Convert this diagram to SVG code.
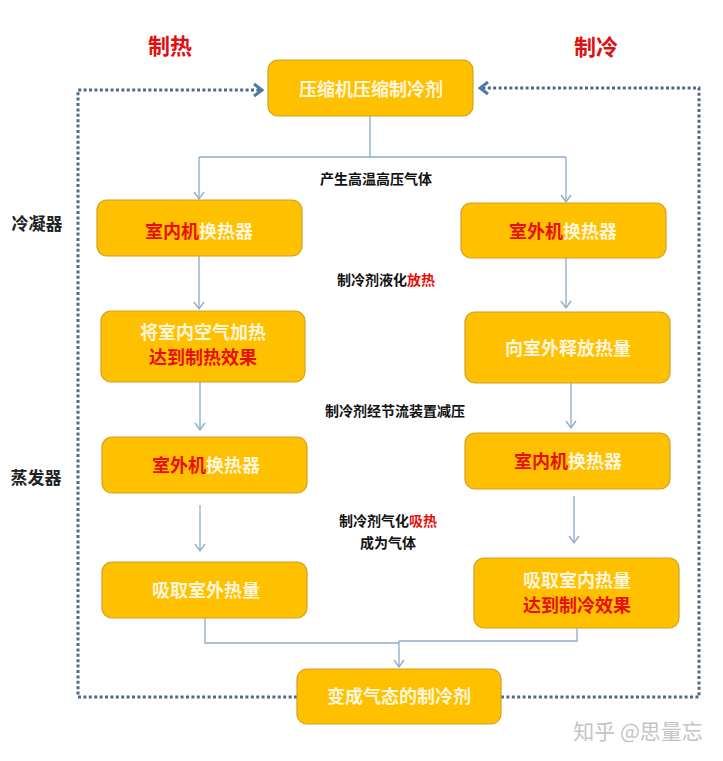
<svg xmlns="http://www.w3.org/2000/svg" width="723" height="761" viewBox="0 0 723 761">
<defs>
<style>
.node{fill:#FFC000;stroke:#D4A020;stroke-width:1.2}
.nt{font-family:"Noto Sans CJK SC","Noto Sans",sans-serif;font-weight:bold;font-size:18px;fill:#FFF6DC;text-anchor:middle}
.r{fill:#E8100C}
.conn{fill:none;stroke:#8AABCB;stroke-width:1.3}
.loop{fill:none;stroke:#4E6A88;stroke-width:3;stroke-dasharray:3 2.4}
.lbl{font-family:"Noto Sans CJK SC","Noto Sans",sans-serif;font-weight:bold;font-size:14px;fill:#111;text-anchor:middle}
.side{font-family:"Noto Sans CJK SC","Noto Sans",sans-serif;font-weight:bold;font-size:17px;fill:#222;text-anchor:middle}
.title{font-family:"Noto Sans CJK SC","Noto Sans",sans-serif;font-weight:bold;font-size:22px;fill:#E01010;text-anchor:middle}
</style>
<marker id="arr" viewBox="-10 -6 12 12" refX="0" refY="0" markerWidth="12" markerHeight="12" markerUnits="userSpaceOnUse" orient="auto">
<path d="M-7,-5 L0,0 L-7,5" fill="none" stroke="#8AABCB" stroke-width="1.3"/>
</marker>
<marker id="larr" viewBox="-12 -8 14 16" refX="0" refY="0" markerWidth="14" markerHeight="16" markerUnits="userSpaceOnUse" orient="auto">
<path d="M-8,-6 L0,0 L-8,6" fill="none" stroke="#4F7AA8" stroke-width="3"/>
</marker>
</defs>
<rect width="723" height="761" fill="#FFFFFF"/>

<g id="loop-lines">
<path class="loop" d="M297,697 H78 V90 H262" marker-end="url(#larr)"/>
<path class="loop" d="M501,697 H699 V88 H480" marker-end="url(#larr)"/>
</g>

<g id="connectors">
<path class="conn" d="M370,116 V157"/>
<path class="conn" d="M199,157 H566"/>
<path class="conn" d="M199,157 V199" marker-end="url(#arr)"/>
<path class="conn" d="M566,157 V202" marker-end="url(#arr)"/>
<path class="conn" d="M199,256 V309" marker-end="url(#arr)"/>
<path class="conn" d="M200,382 V430" marker-end="url(#arr)"/>
<path class="conn" d="M200,505 V551" marker-end="url(#arr)"/>
<path class="conn" d="M566,258 V308" marker-end="url(#arr)"/>
<path class="conn" d="M571,383 V428" marker-end="url(#arr)"/>
<path class="conn" d="M574,496 V543" marker-end="url(#arr)"/>
<path class="conn" d="M205,618 V643 H399"/>
<path class="conn" d="M577,628 V641 H399"/>
<path class="conn" d="M399,641 V667" marker-end="url(#arr)"/>
</g>

<g id="titles">
<text class="title" x="170" y="54">制热</text>
<text class="title" x="596" y="55">制冷</text>
<text class="side" x="37" y="230">冷凝器</text>
<text class="side" x="36" y="484">蒸发器</text>
</g>

<g id="labels">
<text class="lbl" x="376" y="184">产生高温高压气体</text>
<text class="lbl" x="386" y="285">制冷剂液化<tspan class="r">放热</tspan></text>
<text class="lbl" x="395" y="416">制冷剂经节流装置减压</text>
<text class="lbl" x="388" y="526">制冷剂气化<tspan class="r">吸热</tspan></text>
<text class="lbl" x="388" y="548">成为气体</text>
</g>

<g id="n-compress">
<rect class="node" x="268" y="60" width="205" height="56" rx="10"/>
<text class="nt" x="371" y="96">压缩机压缩制冷剂</text>
</g>

<g id="n-heat-indoor-hx">
<rect class="node" x="97" y="200" width="205" height="56" rx="10"/>
<text class="nt" x="199" y="238"><tspan class="r">室内机</tspan>换热器</text>
</g>

<g id="n-heat-air">
<rect class="node" x="101" y="311" width="204" height="71" rx="10"/>
<text class="nt" x="203" y="339">将室内空气加热</text>
<text class="nt r" x="203" y="364">达到制热效果</text>
</g>

<g id="n-heat-outdoor-hx">
<rect class="node" x="102" y="437" width="205" height="56" rx="10"/>
<text class="nt" x="206" y="472"><tspan class="r">室外机</tspan>换热器</text>
</g>

<g id="n-heat-absorb">
<rect class="node" x="102" y="562" width="205" height="56" rx="10"/>
<text class="nt" x="206" y="597">吸取室外热量</text>
</g>

<g id="n-cool-outdoor-hx">
<rect class="node" x="461" y="203" width="205" height="55" rx="10"/>
<text class="nt" x="563" y="238"><tspan class="r">室外机</tspan>换热器</text>
</g>

<g id="n-cool-release">
<rect class="node" x="465" y="312" width="205" height="71" rx="10"/>
<text class="nt" x="568" y="355">向室外释放热量</text>
</g>

<g id="n-cool-indoor-hx">
<rect class="node" x="465" y="433" width="205" height="56" rx="10"/>
<text class="nt" x="568" y="468"><tspan class="r">室内机</tspan>换热器</text>
</g>

<g id="n-cool-absorb">
<rect class="node" x="474" y="558" width="205" height="70" rx="10"/>
<text class="nt" x="577" y="587">吸取室内热量</text>
<text class="nt r" x="577" y="612">达到制冷效果</text>
</g>

<g id="n-gas">
<rect class="node" x="297" y="669" width="204" height="55" rx="10"/>
<text class="nt" x="399" y="703">变成气态的制冷剂</text>
</g>

<text x="638" y="739" font-family="'Noto Sans CJK SC','Noto Sans',sans-serif" font-size="21" fill="#C4C4C4" text-anchor="middle">知乎 @思量忘</text>
</svg>
